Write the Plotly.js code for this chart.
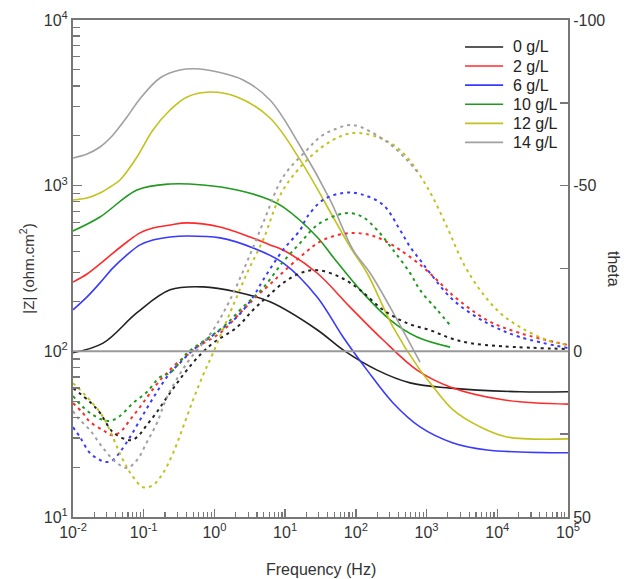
<!DOCTYPE html>
<html><head><meta charset="utf-8">
<script src="https://cdn.plot.ly/plotly-3.0.1.min.js"></script>
<style>html,body{margin:0;padding:0;background:#fff}#chart{width:624px;height:579px}</style>
</head><body><div id="chart"></div>
<script>
// Series labels and colours
const seriesLabels = ['0 g/L', '2 g/L', '6 g/L', '10 g/L', '12 g/L', '14 g/L'];
const seriesColors = ['#222222', '#ff2a2a', '#3a3aff', '#1f9a1f', '#c2c21e', '#a0a0a0'];

// Axis tick labels
const xTickVals = [0.01, 0.1, 1, 10, 100, 1000, 10000, 100000];
const xTickText = ['10<sup>-2</sup>', '10<sup>-1</sup>', '10<sup>0</sup>', '10<sup>1</sup>', '10<sup>2</sup>', '10<sup>3</sup>', '10<sup>4</sup>', '10<sup>5</sup>'];
const yTickVals = [10, 100, 1000, 10000];
const yTickText = ['10<sup>1</sup>', '10<sup>2</sup>', '10<sup>3</sup>', '10<sup>4</sup>'];
const y2TickVals = [-100, -50, 0, 50];
const y2TickText = ['-100', '-50', '0', '50'];

// |Z| (ohm.cm2) vs frequency (Hz) — solid lines
const freqZ_0 = [0.01, 0.0266, 0.0804, 0.236, 0.69, 2.09, 6.11, 28.3, 65.9, 200, 585, 2150, 21040, 100000];
const modZ_0  = [98, 112, 171, 235, 245, 228, 199, 135, 102, 77, 64.5, 60, 57, 57];

const freqZ_2 = [0.01, 0.0158, 0.0241, 0.0368, 0.058, 0.0887, 0.135, 0.236, 0.41, 1.2, 3.19, 6.11, 9.34, 28.3, 82.8, 243, 734, 2150, 12080, 100000];
const modZ_2  = [262, 293, 337, 392, 457, 519, 555, 579, 596, 563, 490, 439, 409, 297, 185, 117, 77, 61, 51, 48];

const freqZ_6 = [0.01, 0.0158, 0.0241, 0.0368, 0.058, 0.0887, 0.135, 0.236, 0.41, 1.2, 3.52, 9.34, 28.3, 65.9, 144, 336, 809, 2370, 7180, 100000];
const modZ_6  = [178, 213, 259, 319, 382, 439, 470, 490, 497, 484, 421, 342, 213, 122, 77, 48.8, 35, 28, 25.4, 24.4];

const freqZ_10 = [0.01, 0.0241, 0.0804, 0.236, 0.69, 2.09, 6.11, 9.34, 28.3, 47.6, 115, 305, 734, 2150];
const modZ_10  = [533, 647, 942, 1024, 1010, 942, 820, 744, 490, 371, 235, 155, 122, 106];

const freqZ_12 = [0.01, 0.0158, 0.0241, 0.0334, 0.0462, 0.0804, 0.135, 0.236, 0.41, 0.867, 2.09, 6.11, 16.3, 47.6, 82.8, 144, 336, 809, 1121, 2370, 5710, 13770, 100000];
const modZ_12  = [820, 843, 903, 982, 1082, 1490, 2169, 2863, 3430, 3678, 3430, 2562, 1430, 647, 427, 297, 140, 77, 64.5, 44.3, 35, 30.4, 29.6];

const freqZ_14 = [0.01, 0.0158, 0.0241, 0.0368, 0.058, 0.0887, 0.17, 0.326, 0.625, 0.955, 2.54, 6.11, 16.3, 43.2, 91.3, 159, 305, 809];
const modZ_14  = [1470, 1554, 1712, 2023, 2598, 3350, 4467, 4992, 5061, 4922, 4344, 3290, 1735, 820, 409, 297, 185, 86];

// theta (deg) vs frequency (Hz) — dotted lines, right axis
const freqT_0 = [0.01, 0.0174, 0.0241, 0.0368, 0.064, 0.0804, 0.111, 0.154, 0.214, 0.296, 0.41, 0.625, 0.955, 2.09, 3.52, 5.54, 9.34, 16.3, 28.3, 59.8, 115, 243, 530, 1121, 2150, 4120, 12080, 100000];
const theta_0 = [11.1, 15.3, 18.6, 24.4, 26.8, 25.9, 22.2, 18.3, 13.8, 9.6, 5.6, 1.1, -2.5, -7.3, -12.5, -16.4, -20.6, -23.6, -24.5, -22.4, -18.5, -12.5, -8.5, -6.4, -4.0, -2.5, -1.5, -0.7];

const freqT_2 = [0.01, 0.0138, 0.0174, 0.0266, 0.0356, 0.0462, 0.064, 0.0887, 0.123, 0.17, 0.214, 0.296, 0.452, 0.567, 1.2, 2.54, 4.42, 5.54, 16.3, 34.4, 82.8, 159, 243, 422, 892, 1553, 2150, 7180, 21040, 100000];
const theta_2 = [15.6, 18.6, 21.3, 23.8, 25.3, 24.4, 20.7, 16.8, 12.6, 8.7, 6.5, 3.5, 0.5, -1.3, -5.5, -12.5, -17.6, -19.4, -28.5, -33.6, -35.7, -35.1, -33.6, -30.6, -25.4, -20.6, -17.6, -9.4, -5.5, -1.9];

const freqT_6 = [0.01, 0.01256, 0.0174, 0.0241, 0.0303, 0.0368, 0.0462, 0.064, 0.0887, 0.123, 0.17, 0.236, 0.326, 0.498, 1.2, 2.09, 3.52, 4.87, 9.34, 16.3, 20.4, 34.4, 65.9, 115, 243, 422, 585, 809, 1121, 2370, 7180, 21040, 100000];
const theta_6 = [22.9, 25.9, 30.7, 32.8, 33.4, 32.8, 30.4, 25.9, 20.7, 15.6, 10.8, 6.5, 3.5, -0.4, -6.4, -10.4, -16.4, -21.5, -30.6, -36.6, -40.5, -45.7, -47.8, -47.5, -44.2, -36.6, -31.5, -27.6, -23.6, -15.5, -8.5, -4.3, -1.0];

const freqT_10 = [0.01, 0.0138, 0.0192, 0.0266, 0.0334, 0.0462, 0.0706, 0.111, 0.17, 0.236, 0.36, 0.41, 1.32, 2.54, 4.87, 9.34, 16.3, 28.3, 54.2, 82.8, 126, 200, 336, 585, 809, 1409, 2150];
const theta_10 = [13.5, 16.8, 19.2, 20.7, 21.0, 19.5, 15.6, 12.3, 7.8, 6.5, 2.0, 0.5, -7.3, -13.4, -19.1, -27.0, -32.7, -38.1, -41.1, -41.7, -40.5, -36.6, -30.6, -23.6, -18.5, -12.5, -7.9];

const freqT_12 = [0.01, 0.0158, 0.0266, 0.0509, 0.0706, 0.0977, 0.135, 0.188, 0.26, 0.36, 0.498, 0.69, 0.955, 1.66, 2.89, 4.87, 9.34, 22.5, 47.6, 91.3, 220, 465, 1016, 1950, 3284, 5710, 10960, 21040, 50600, 100000];
const theta_12 = [9.6, 13.8, 19.8, 32.8, 37.9, 41.0, 40.4, 36.7, 30.7, 22.9, 14.7, 7.2, 0.5, -11.6, -23.6, -33.6, -48.7, -58.6, -63.8, -65.9, -64.4, -59.9, -49.6, -37.5, -26.7, -18.5, -11.6, -7.3, -3.4, -1.9];

const freqT_14 = [0.01, 0.0114, 0.0174, 0.0266, 0.0419, 0.058, 0.0804, 0.111, 0.154, 0.214, 0.41, 0.955, 1.66, 2.89, 4.87, 9.34, 20.4, 31.2, 47.6, 91.3, 276, 530, 809];
const theta_14 = [18.0, 19.8, 23.8, 29.2, 33.7, 35.2, 32.8, 27.4, 21.6, 13.8, 3.5, -6.4, -15.5, -27.0, -38.7, -52.6, -60.8, -64.7, -66.8, -68.3, -63.2, -57.7, -53.2];

const freqZ = [freqZ_0, freqZ_2, freqZ_6, freqZ_10, freqZ_12, freqZ_14];
const modZ = [modZ_0, modZ_2, modZ_6, modZ_10, modZ_12, modZ_14];
const freqT = [freqT_0, freqT_2, freqT_6, freqT_10, freqT_12, freqT_14];
const theta = [theta_0, theta_2, theta_6, theta_10, theta_12, theta_14];

const traces = [];
for (let i = 0; i < seriesLabels.length; i++) {
  traces.push({
    x: freqZ[i], y: modZ[i], type: 'scatter', mode: 'lines', name: seriesLabels[i],
    line: {color: seriesColors[i], width: 1.6, shape: 'spline', smoothing: 1},
    xaxis: 'x', yaxis: 'y', hoverinfo: 'skip', showlegend: false
  });
}
for (let i = 0; i < seriesLabels.length; i++) {
  traces.push({
    x: freqT[i], y: theta[i], type: 'scatter', mode: 'lines', name: seriesLabels[i] + ' theta',
    showlegend: false,
    line: {color: seriesColors[i], width: 2, dash: '3px,4px', shape: 'spline', smoothing: 1},
    xaxis: 'x', yaxis: 'y2', hoverinfo: 'skip'
  });
}

// minor tick positions (2..9 in each decade)
function minorLog(d0, d1) {
  const v = [];
  for (let d = d0; d < d1; d++) for (let k = 2; k <= 9; k++) v.push(k * Math.pow(10, d));
  return v;
}

const fam = 'Liberation Sans, Arial, sans-serif';
const txt = '#333';
const axisLine = '#777';

// Legend drawn as shapes + annotations (inside top-right)
const shapes = [{type: 'line', xref: 'paper', x0: 0, x1: 1, yref: 'y2', y0: 0, y1: 0, line: {color: '#999', width: 2}}];
const annotations = [
  {text: 'theta', xref: 'paper', yref: 'paper', x: 1.092, y: 0.5, xanchor: 'center', yanchor: 'middle',
   showarrow: false, textangle: 90, font: {family: fam, size: 16, color: txt}},
  {text: 'Frequency (Hz)', xref: 'paper', yref: 'paper', x: 0.5, y: -0.106, xanchor: 'center', yanchor: 'middle',
   showarrow: false, font: {family: fam, size: 16, color: txt}}
];
const legX0 = 0.792, legX1 = 0.869, legTextX = 0.885, legY0 = 0.9457, legDy = 0.0384;
for (let i = 0; i < seriesLabels.length; i++) {
  const yy = legY0 - i * legDy;
  shapes.push({type: 'line', xref: 'paper', yref: 'paper', x0: legX0, x1: legX1, y0: yy, y1: yy,
               line: {color: seriesColors[i], width: 1.6}});
  annotations.push({text: seriesLabels[i], xref: 'paper', yref: 'paper', x: legTextX, y: yy, xanchor: 'left', yanchor: 'middle',
                    showarrow: false, font: {family: fam, size: 16, color: '#222'}});
}

const layout = {
  width: 624, height: 579,
  margin: {l: 73, r: 56, t: 20, b: 62, pad: 0},
  paper_bgcolor: '#fff', plot_bgcolor: '#fff',
  font: {family: fam, size: 15, color: txt},
  showlegend: false,
  xaxis: {
    type: 'log', range: [-2, 5], tickmode: 'array', tickvals: xTickVals, ticktext: xTickText,
    showgrid: false, zeroline: false, showline: true, linecolor: axisLine, linewidth: 2, mirror: true,
    ticks: 'inside', ticklen: 8, tickcolor: axisLine, tickwidth: 1.5,
    minor: {tickmode: 'array', tickvals: minorLog(-2, 5), ticks: 'inside', ticklen: 5, tickcolor: axisLine, tickwidth: 1.2, showgrid: false},
    tickfont: {family: fam, size: 16, color: txt},
    automargin: false
  },
  yaxis: {
    type: 'log', range: [1, 4], tickmode: 'array', tickvals: yTickVals, ticktext: yTickText,
    showgrid: false, zeroline: false, showline: true, linecolor: axisLine, linewidth: 2,
    ticks: 'inside', ticklen: 9, tickcolor: axisLine, tickwidth: 1.5,
    minor: {tickmode: 'array', tickvals: minorLog(1, 4), ticks: 'inside', ticklen: 7, tickcolor: axisLine, tickwidth: 1.2, showgrid: false},
    tickfont: {family: fam, size: 16, color: txt},
    title: {text: '|Z| (ohm.cm<sup>2</sup>)', font: {family: fam, size: 15, color: txt}, standoff: 6},
    automargin: false
  },
  yaxis2: {
    overlaying: 'y', side: 'right', range: [50, -100], tickmode: 'array', tickvals: y2TickVals, ticktext: y2TickText,
    showgrid: false, zeroline: false, showline: true, linecolor: axisLine, linewidth: 2,
    ticks: 'inside', ticklen: 8, tickcolor: axisLine, tickwidth: 1.5,
    minor: {tickmode: 'array', tickvals: [-75, -25, 25], ticks: 'inside', ticklen: 8, tickcolor: axisLine, tickwidth: 1.5, showgrid: false},
    tickfont: {family: fam, size: 16, color: txt},
    automargin: false
  },
  shapes: shapes,
  annotations: annotations
};

Plotly.newPlot('chart', traces, layout, {staticPlot: true, displayModeBar: false});
</script>
</body></html>
